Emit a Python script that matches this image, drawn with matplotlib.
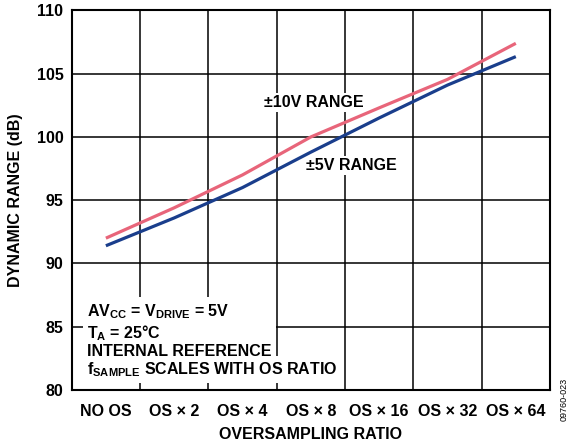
#! /usr/bin/env python3
import matplotlib
matplotlib.use("Agg")
import matplotlib.pyplot as plt
import numpy as np

plt.rcParams["font.family"] = ["Liberation Sans", "DejaVu Sans"]
plt.rcParams["font.weight"] = "bold"
plt.rcParams["mathtext.fontset"] = "custom"
plt.rcParams["mathtext.rm"] = "Liberation Sans:bold"
plt.rcParams["mathtext.default"] = "rm"

# --------------------------------------------------------------------
# Data
# --------------------------------------------------------------------
ratios = ["NO OS", "OS × 2", "OS × 4", "OS × 8", "OS × 16", "OS × 32", "OS × 64"]
range_10v = [92.0, 94.4, 97.0, 100.0, 102.3, 104.55, 107.4]
range_5v = [91.4, 93.6, 96.0, 98.8, 101.5, 104.1, 106.35]
y_ticks = [80, 85, 90, 95, 100, 105, 110]

PINK = "#E8657A"
BLUE = "#1A3E8C"
FS = 11.5

# --------------------------------------------------------------------
# Plot
# --------------------------------------------------------------------
fig = plt.figure(figsize=(5.71, 4.46), dpi=100)
ax = fig.add_axes([0.1256, 0.1256, 0.8376, 0.851])

x = np.arange(len(ratios)) + 0.5
ax.plot(x, range_10v, color=PINK, lw=2.3, zorder=3, solid_capstyle="butt")
ax.plot(x, range_5v, color=BLUE, lw=2.3, zorder=3, solid_capstyle="butt")

ax.set_xlim(0, len(ratios))
ax.set_ylim(80, 110)
ax.set_xticks(x)
ax.set_xticklabels(ratios, fontsize=FS, fontweight="bold")
ax.set_xticks(np.arange(1, len(ratios)), minor=True)
ax.set_yticks(y_ticks)
ax.set_yticklabels([str(v) for v in y_ticks], fontsize=FS, fontweight="bold")
ax.tick_params(axis="both", which="both", length=0)
ax.tick_params(axis="x", pad=10)
ax.tick_params(axis="y", pad=6)

ax.grid(True, which="minor", axis="x", color="black", lw=1.1, zorder=1)
ax.grid(True, which="major", axis="y", color="black", lw=1.1, zorder=1)
for s in ax.spines.values():
    s.set_linewidth(1.5)
    s.set_zorder(4)

ax.set_xlabel("OVERSAMPLING RATIO", fontsize=FS, fontweight="bold", labelpad=6)
ax.set_ylabel("DYNAMIC RANGE (dB)", fontsize=FS, fontweight="bold", labelpad=10)

# series labels
box = dict(facecolor="white", edgecolor="none", pad=1.5)
ax.text(3.55, 102.7, "±10V RANGE", fontsize=FS, fontweight="bold",
        ha="center", va="center", bbox=box, zorder=2)
ax.text(4.1, 97.75, "±5V RANGE", fontsize=FS, fontweight="bold",
        ha="center", va="center", bbox=box, zorder=2)

# conditions
ax.text(0.23, 86.9,
        "AV$_{CC}$ = V$_{DRIVE}$ = 5V\nT$_{A}$ = 25°C\nINTERNAL REFERENCE",
        fontsize=FS, fontweight="bold", ha="left", va="top", linespacing=1.1,
        bbox=dict(facecolor="white", edgecolor="none", pad=3), zorder=2)
ax.text(0.23, 81.6, "f$_{SAMPLE}$ SCALES WITH OS RATIO",
        fontsize=FS, fontweight="bold", ha="left", va="center",
        bbox=dict(facecolor="white", edgecolor="none", pad=3), zorder=2)

fig.text(0.988, 0.055, "09760-023", fontsize=6.5, fontweight="normal",
         rotation=90, ha="center", va="bottom")

plt.savefig("out.png", dpi=100)
plt.close()
